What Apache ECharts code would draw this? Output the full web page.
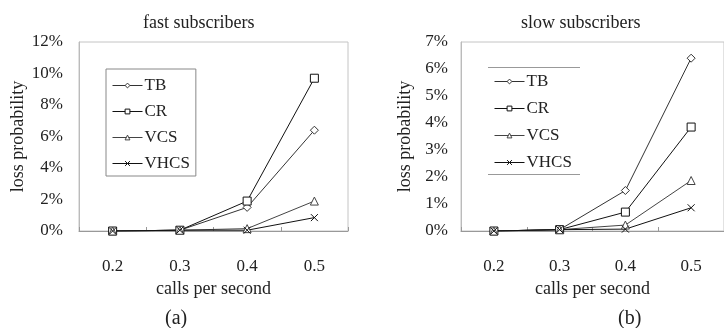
<!DOCTYPE html>
<html>
<head>
<meta charset="utf-8">
<script src="https://cdn.jsdelivr.net/npm/echarts@6/dist/echarts.min.js"></script>
<style>
  html, body { margin: 0; padding: 0; background: #fff; }
  #chart { width: 724px; height: 328px; }
</style>
</head>
<body>
<div id="chart"></div>
<script>
// calls per second
const categories = ['0.2', '0.3', '0.4', '0.5'];

// loss probability in %, fast subscribers (a)
const fastTB = [0, 0.05, 1.5, 6.4];
const fastCR = [0, 0.05, 1.9, 9.7];
const fastVCS = [0, 0.05, 0.15, 1.9];
const fastVHCS = [0, 0.05, 0.05, 0.85];

// loss probability in %, slow subscribers (b)
const slowTB = [0, 0.05, 1.5, 6.4];
const slowCR = [0, 0.05, 0.7, 3.85];
const slowVCS = [0, 0.05, 0.22, 1.87];
const slowVHCS = [0, 0.05, 0.07, 0.86];

const seriesNames = ['TB', 'CR', 'VCS', 'VHCS'];

const FONT = "'Liberation Serif', 'Times New Roman', serif";
const crossPath = 'path://M0,0L10,10M10,0L0,10';
const looks = {
    TB: { symbol: 'diamond', size: 8, color: '#333' },
    CR: { symbol: 'rect', size: 8, color: '#111' },
    VCS: { symbol: 'triangle', size: 8, color: '#444' },
    VHCS: { symbol: crossPath, size: 7, color: '#111' }
};

function makeSeries(name, data, idx) {
    const l = looks[name];
    return {
        name: name,
        type: 'line',
        xAxisIndex: idx,
        yAxisIndex: idx,
        data: data,
        symbol: l.symbol,
        symbolSize: l.size,
        showAllSymbol: true,
        lineStyle: { color: l.color, width: 1 },
        itemStyle: { color: '#fff', borderColor: l.color, borderWidth: 1 },
        animation: false
    };
}

function xAxis(idx) {
    return {
        type: 'category',
        gridIndex: idx,
        data: categories,
        boundaryGap: true,
        name: 'calls per second',
        nameLocation: 'middle',
        nameGap: 42,
        nameTextStyle: { fontFamily: FONT, fontSize: 18, color: '#222' },
        axisLine: { lineStyle: { color: '#999', width: 1 } },
        axisTick: { show: true, inside: true, length: 4, lineStyle: { color: '#999' } },
        axisLabel: { margin: 27, fontFamily: FONT, fontSize: 17, color: '#222' },
        splitLine: { show: false }
    };
}

function yAxis(idx, max, gap, margin) {
    return {
        type: 'value',
        gridIndex: idx,
        min: 0,
        max: max,
        interval: idx === 0 ? 2 : 1,
        name: 'loss probability',
        nameLocation: 'middle',
        nameGap: gap,
        nameTextStyle: { fontFamily: FONT, fontSize: 18, color: '#222' },
        axisLine: { show: true, lineStyle: { color: '#bbb', width: 1 } },
        axisTick: { show: false },
        axisLabel: { margin: margin, fontFamily: FONT, fontSize: 17, color: '#222', formatter: '{value}%' },
        splitLine: { show: false }
    };
}

function legend(left, top, padding, gap, bordered) {
    return {
        data: seriesNames.map(n => ({ name: n })),
        orient: 'vertical',
        left: left,
        top: top,
        padding: padding,
        itemGap: gap,
        itemWidth: 30,
        itemHeight: 6,
        lineStyle: { width: 1 },
        itemStyle: { borderWidth: 1, color: '#fff' },
        borderColor: bordered ? '#888' : 'transparent',
        borderWidth: bordered ? 1 : 0,
        textStyle: { fontFamily: FONT, fontSize: 17, lineHeight: 17, color: '#222', padding: [0, 0, 0, -3] },
        selectedMode: false
    };
}

const chart = echarts.init(document.getElementById('chart'));
chart.setOption({
    backgroundColor: '#fff',
    animation: false,
    title: [
        { text: 'fast subscribers', left: 138, top: 9, textStyle: { fontFamily: FONT, fontSize: 18, fontWeight: 'normal', color: '#222' } },
        { text: 'slow subscribers', left: 516, top: 9, textStyle: { fontFamily: FONT, fontSize: 18, fontWeight: 'normal', color: '#222' } },
        { text: '(a)', left: 160, top: 304, textStyle: { fontFamily: FONT, fontSize: 20, fontWeight: 'normal', color: '#222' } },
        { text: '(b)', left: 613, top: 304, textStyle: { fontFamily: FONT, fontSize: 20, fontWeight: 'normal', color: '#222' } }
    ],
    grid: [
        { left: 79, top: 42, width: 269, height: 189, show: true, borderColor: '#c4c4c4', borderWidth: 1, backgroundColor: 'transparent' },
        { left: 461, top: 42, width: 272, height: 189, show: true, borderColor: '#c4c4c4', borderWidth: 1, backgroundColor: 'transparent' }
    ],
    xAxis: [xAxis(0), xAxis(1)],
    yAxis: [yAxis(0, 12, 52, 16), yAxis(1, 7, 47, 13)],
    legend: [
        Object.assign(legend(106, 69, [8, 6, 4, 6], 9, true), { id: 'la' }),
        Object.assign(legend(489, 67, [6, 5, 3, 5], 10, false), { id: 'lb' })
    ],
    graphic: [
        { type: 'line', shape: { x1: 488, y1: 67.5, x2: 580, y2: 67.5 }, style: { stroke: '#999', lineWidth: 1 } },
        { type: 'line', shape: { x1: 488, y1: 174.5, x2: 580, y2: 174.5 }, style: { stroke: '#999', lineWidth: 1 } }
    ],
    series: [
        makeSeries('TB', fastTB, 0),
        makeSeries('CR', fastCR, 0),
        makeSeries('VCS', fastVCS, 0),
        makeSeries('VHCS', fastVHCS, 0),
        makeSeries('TB', slowTB, 1),
        makeSeries('CR', slowCR, 1),
        makeSeries('VCS', slowVCS, 1),
        makeSeries('VHCS', slowVHCS, 1)
    ]
});
</script>
</body>
</html>
